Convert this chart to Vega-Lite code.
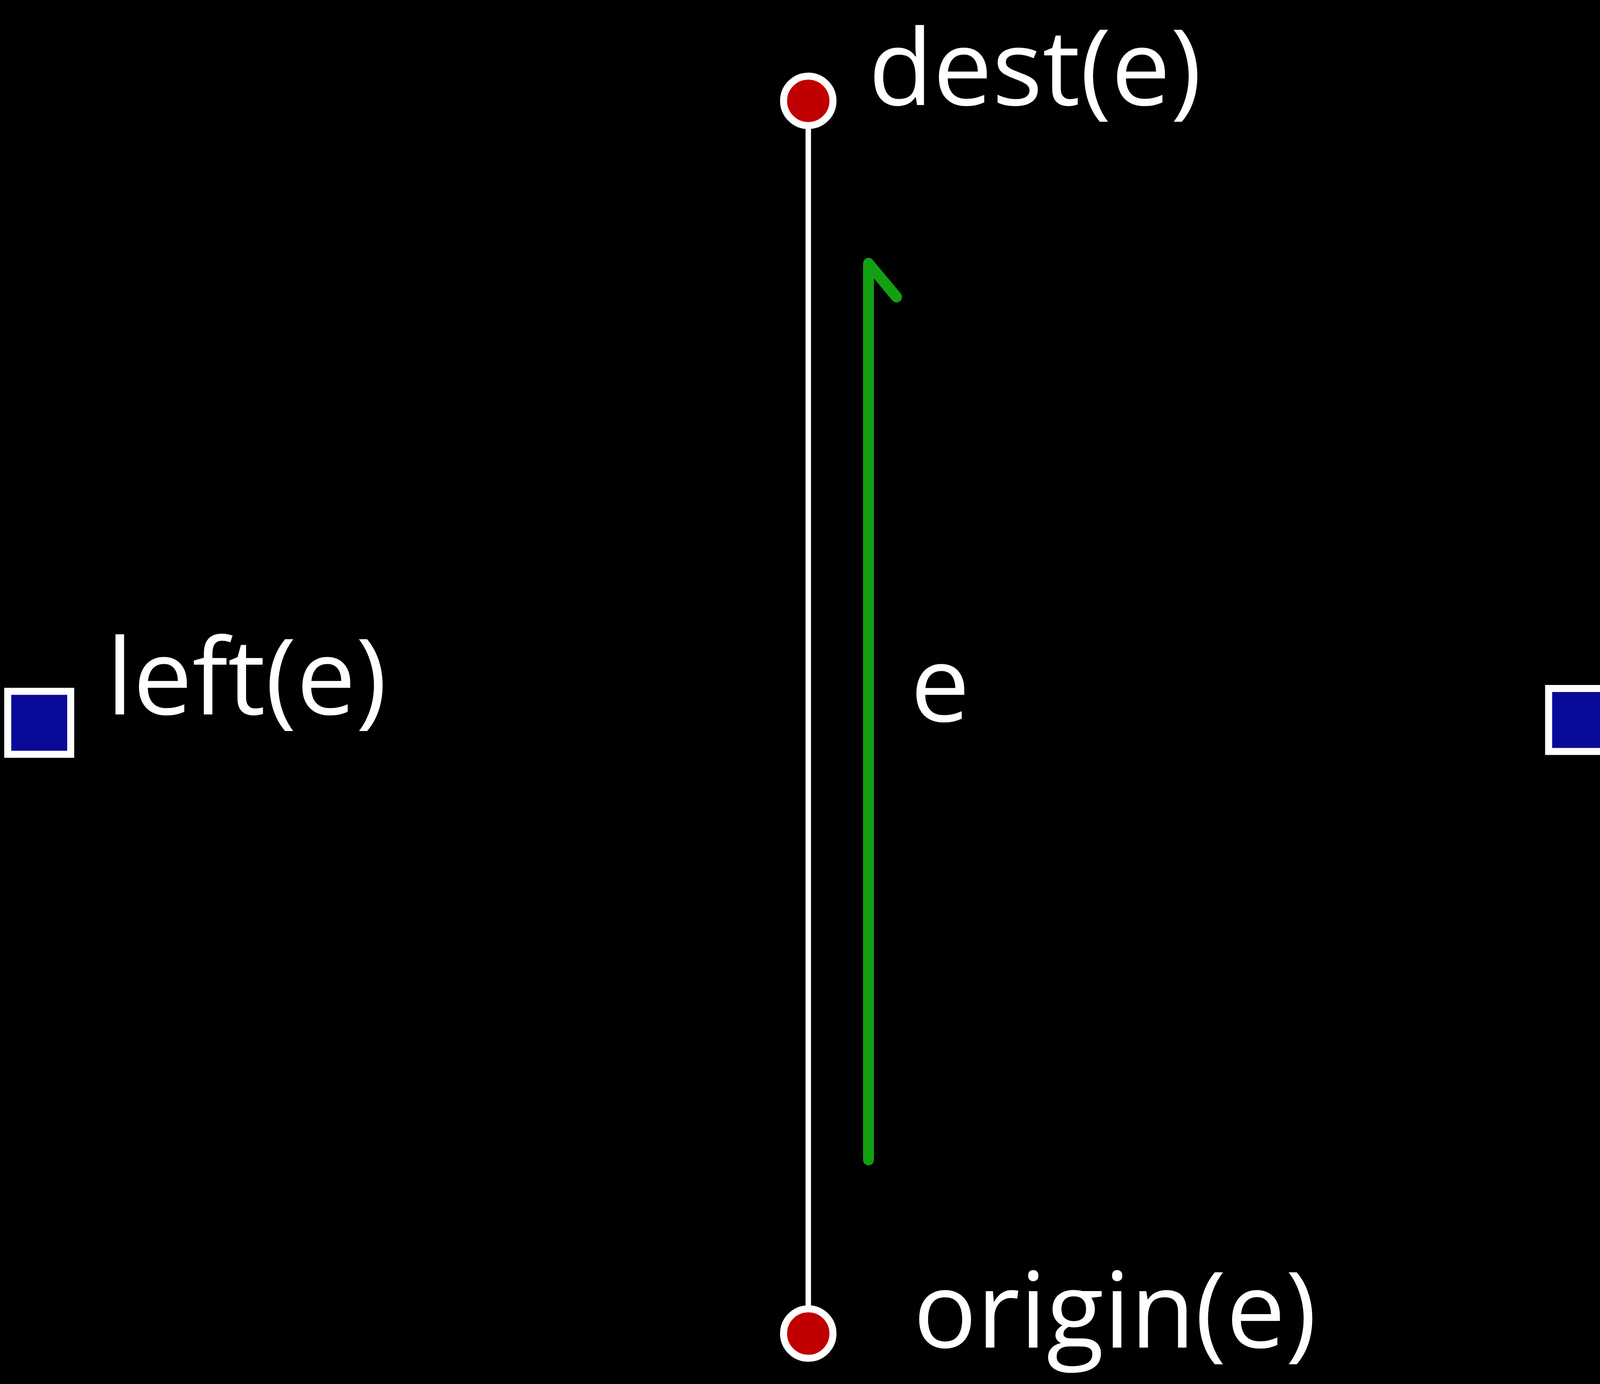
{
  "$schema": "https://vega.github.io/schema/vega-lite/v6.json",
  "autosize": {"type": "none"},
  "width": 5623, "height": 3544, "padding": 0,
  "background": "black",
  "config": {"view": {"stroke": null}},
  "datasets": {
    "segs": [
      {"seg": "edge", "x": 577, "y": 72},
      {"seg": "edge", "x": 577, "y": 952},
      {"seg": "arrow", "x": 620, "y": 828},
      {"seg": "arrow", "x": 620, "y": 188},
      {"seg": "arrow", "x": 640, "y": 212}
    ],
    "verts": [
      {"name": "dest", "x": 577, "y": 72},
      {"name": "origin", "x": 577, "y": 952}
    ],
    "faces": [
      {"name": "left", "x": 28, "y": 516},
      {"name": "right", "x": 1128, "y": 514}
    ],
    "labels": [
      {"t": "dest(e)", "x": 620, "y": 75},
      {"t": "origin(e)", "x": 652, "y": 962},
      {"t": "left(e)", "x": 76, "y": 510},
      {"t": "right(e)", "x": 1216, "y": 505},
      {"t": "e", "x": 650, "y": 515}
    ]
  },
  "layer": [
    {
      "data": {"name": "segs"},
      "transform": [{"filter": "datum.seg == 'edge'"}],
      "mark": {"type": "line", "color": "white", "strokeWidth": 14},
      "encoding": {
        "x": {"field": "x", "type": "quantitative", "scale": {"domain": [0, 1568]}, "axis": null},
        "y": {"field": "y", "type": "quantitative", "scale": {"domain": [988, 0]}, "axis": null}
      }
    },
    {
      "data": {"name": "segs"},
      "transform": [{"filter": "datum.seg == 'arrow'"}],
      "mark": {"type": "line", "color": "#12a012", "strokeWidth": 28, "strokeCap": "round", "strokeJoin": "round"},
      "encoding": {
        "x": {"field": "x", "type": "quantitative", "scale": {"domain": [0, 1568]}, "axis": null},
        "y": {"field": "y", "type": "quantitative", "scale": {"domain": [988, 0]}, "axis": null},
        "order": {"value": 0}
      }
    },
    {
      "data": {"name": "verts"},
      "mark": {"type": "point", "shape": "circle", "filled": true, "fill": "#c00000", "stroke": "white", "strokeWidth": 18, "size": 16000, "opacity": 1},
      "encoding": {
        "x": {"field": "x", "type": "quantitative", "scale": {"domain": [0, 1568]}, "axis": null},
        "y": {"field": "y", "type": "quantitative", "scale": {"domain": [988, 0]}, "axis": null}
      }
    },
    {
      "data": {"name": "faces"},
      "mark": {"type": "point", "shape": "square", "filled": true, "fill": "#0a0a9a", "stroke": "white", "strokeWidth": 18, "size": 26000, "opacity": 1},
      "encoding": {
        "x": {"field": "x", "type": "quantitative", "scale": {"domain": [0, 1568]}, "axis": null},
        "y": {"field": "y", "type": "quantitative", "scale": {"domain": [988, 0]}, "axis": null}
      }
    },
    {
      "data": {"name": "labels"},
      "mark": {"type": "text", "color": "white", "font": "Open Sans", "fontSize": 270, "align": "left", "baseline": "alphabetic", "letterSpacing": 12},
      "encoding": {
        "x": {"field": "x", "type": "quantitative", "scale": {"domain": [0, 1568]}, "axis": null},
        "y": {"field": "y", "type": "quantitative", "scale": {"domain": [988, 0]}, "axis": null},
        "text": {"field": "t"}
      }
    }
  ]
}
